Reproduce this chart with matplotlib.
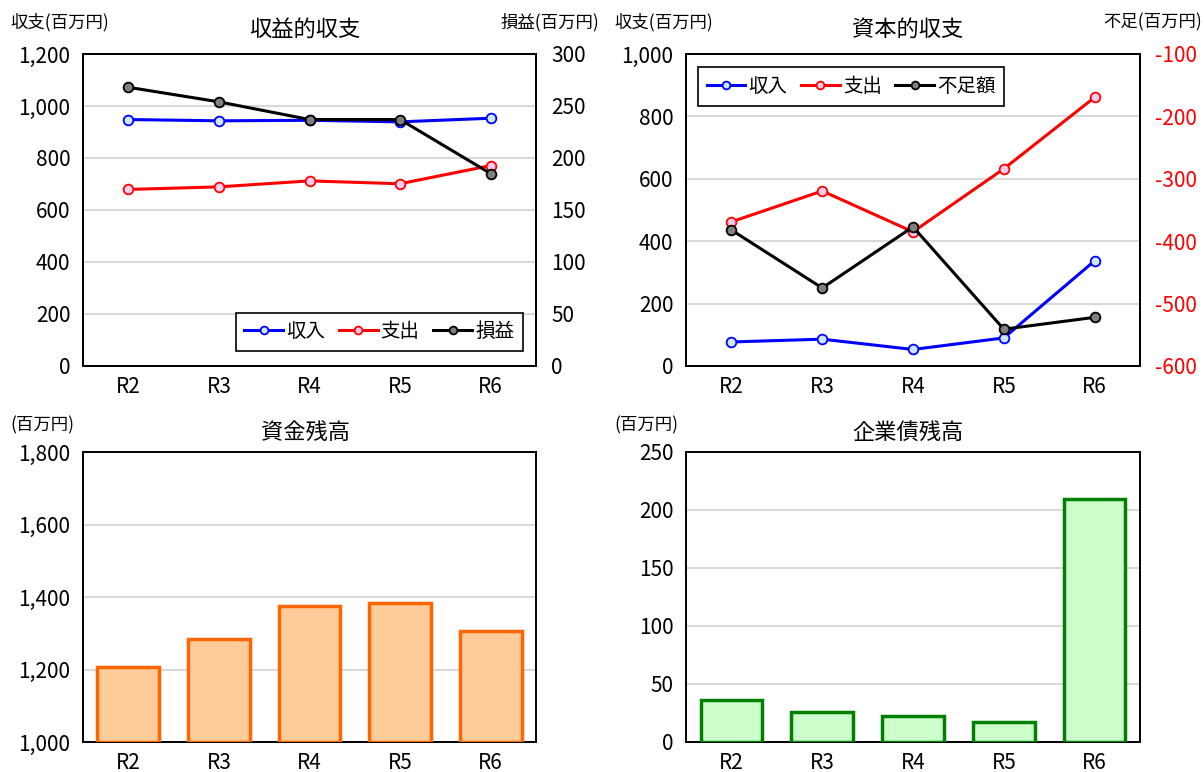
import matplotlib
matplotlib.use("Agg")
import matplotlib.pyplot as plt
from matplotlib.ticker import FuncFormatter

plt.rcParams["font.family"] = ["Noto Sans CJK JP", "DejaVu Sans"]
plt.rcParams["axes.unicode_minus"] = False

# ── data (百万円) ───────────────────────────────────────────────────────
years = ["R2", "R3", "R4", "R5", "R6"]

# 収益的収支
rev_income = [948, 943, 945, 939, 953]
rev_expense = [679, 689, 712, 701, 771]
rev_profit = [268, 254, 237, 237, 185]

# 資本的収支
cap_income = [77, 86, 53, 90, 337]
cap_expense = [462, 561, 430, 632, 861]
cap_shortfall = [-382, -475, -377, -541, -522]

# 資金残高 / 企業債残高
fund_balance = [1207, 1285, 1375, 1383, 1306]
bond_balance = [36.5, 26, 22.5, 17, 209.5]

# ── colours ────────────────────────────────────────────────────────────
CLR_GRID = "#d9d9d9"
CLR_INC, CLR_INC_FILL = "#0000ff", "#cce8ff"
CLR_EXP, CLR_EXP_FILL = "#ff0000", "#ffccee"
CLR_NET, CLR_NET_FILL = "#000000", "#808080"

W, H = 1204, 772
fig = plt.figure(figsize=(W / 100, H / 100), dpi=100)
fig.patch.set_facecolor("white")

TICK_FS = 15
TITLE_FS = 16
UNIT_FS = 12.5
LEG_FS = 14


def px_axes(l, t, r, b):
    return fig.add_axes([l / W, 1 - b / H, (r - l) / W, (b - t) / H])


def style_axes(ax):
    for sp in ax.spines.values():
        sp.set_color("black")
        sp.set_linewidth(1.4)
    ax.tick_params(length=0, labelsize=TICK_FS)
    ax.tick_params(axis="y", pad=9)
    ax.tick_params(axis="x", pad=7)
    ax.yaxis.grid(True, color=CLR_GRID, linewidth=1.5)
    ax.set_axisbelow(True)
    ax.set_xlim(-0.5, len(years) - 0.5)
    ax.set_xticks(range(len(years)))
    ax.set_xticklabels(years)


def style_right(ax, colour="black"):
    ax.tick_params(length=0, labelsize=TICK_FS, pad=11, labelcolor=colour)
    for sp in ax.spines.values():
        sp.set_linewidth(1.4)


comma = FuncFormatter(lambda v, _: f"{v:,.0f}")
x = list(range(len(years)))


def line(ax, vals, clr, fill, label):
    return ax.plot(x, vals, color=clr, lw=2.2, marker="o", markersize=7,
                   markerfacecolor=fill, markeredgecolor=clr,
                   markeredgewidth=1.3, label=label, zorder=3)[0]


def legend(ax, handles, loc, anchor):
    leg = ax.legend(handles=handles, loc=loc, ncol=3, fontsize=LEG_FS,
                    frameon=True, fancybox=False, edgecolor="black",
                    framealpha=1, borderpad=0.45, borderaxespad=0,
                    handlelength=2.0, handletextpad=0.15, columnspacing=0.7,
                    markerscale=0.8, bbox_to_anchor=anchor)
    leg.get_frame().set_linewidth(1.2)


# ── 収益的収支 ──────────────────────────────────────────────────────────
ax1 = px_axes(83, 54, 536, 366)
style_axes(ax1)
ax1.set_ylim(0, 1200)
ax1.set_yticks(range(0, 1201, 200))
ax1.yaxis.set_major_formatter(comma)
h1 = line(ax1, rev_income, CLR_INC, CLR_INC_FILL, "収入")
h2 = line(ax1, rev_expense, CLR_EXP, CLR_EXP_FILL, "支出")
ax1r = ax1.twinx()
ax1r.set_ylim(0, 300)
ax1r.set_yticks(range(0, 301, 50))
style_right(ax1r)
h3 = line(ax1r, rev_profit, CLR_NET, CLR_NET_FILL, "損益")
legend(ax1r, [h1, h2, h3], "lower right", (0.971, 0.048))
fig.text(305 / W, 1 - 29 / H, "収益的収支", fontsize=TITLE_FS, ha="center", va="center")
fig.text(10 / W, 1 - 22 / H, "収支(百万円)", fontsize=UNIT_FS, ha="left", va="center")
fig.text(599 / W, 1 - 22 / H, "損益(百万円)", fontsize=UNIT_FS, ha="right", va="center")

# ── 資本的収支 ──────────────────────────────────────────────────────────
ax2 = px_axes(686, 54, 1140, 366)
style_axes(ax2)
ax2.set_ylim(0, 1000)
ax2.set_yticks(range(0, 1001, 200))
ax2.yaxis.set_major_formatter(comma)
g1 = line(ax2, cap_income, CLR_INC, CLR_INC_FILL, "収入")
g2 = line(ax2, cap_expense, CLR_EXP, CLR_EXP_FILL, "支出")
ax2r = ax2.twinx()
ax2r.set_ylim(-600, -100)
ax2r.set_yticks(range(-600, -99, 100))
style_right(ax2r, "#ff0000")
g3 = line(ax2r, cap_shortfall, CLR_NET, CLR_NET_FILL, "不足額")
legend(ax2r, [g1, g2, g3], "upper left", (0.026, 0.958))
fig.text(908 / W, 1 - 29 / H, "資本的収支", fontsize=TITLE_FS, ha="center", va="center")
fig.text(614 / W, 1 - 22 / H, "収支(百万円)", fontsize=UNIT_FS, ha="left", va="center")
fig.text(1202 / W, 1 - 22 / H, "不足(百万円)", fontsize=UNIT_FS, ha="right", va="center")

# ── 資金残高 ────────────────────────────────────────────────────────────
ax3 = px_axes(83, 452, 536, 742)
style_axes(ax3)
ax3.set_ylim(1000, 1800)
ax3.set_yticks(range(1000, 1801, 200))
ax3.yaxis.set_major_formatter(comma)
ax3.bar(x, [v - 1000 for v in fund_balance], bottom=1000, width=0.68,
        color="#ffcc99", edgecolor="#ff6600", linewidth=2.5, zorder=3)
fig.text(305 / W, 1 - 432 / H, "資金残高", fontsize=TITLE_FS, ha="center", va="center")
fig.text(10 / W, 1 - 425 / H, "(百万円)", fontsize=UNIT_FS, ha="left", va="center")

# ── 企業債残高 ──────────────────────────────────────────────────────────
ax4 = px_axes(686, 452, 1140, 742)
style_axes(ax4)
ax4.set_ylim(0, 250)
ax4.set_yticks(range(0, 251, 50))
ax4.bar(x, bond_balance, width=0.68, color="#ccffcc", edgecolor="#008000",
        linewidth=2.5, zorder=3)
fig.text(908 / W, 1 - 432 / H, "企業債残高", fontsize=TITLE_FS, ha="center", va="center")
fig.text(614 / W, 1 - 425 / H, "(百万円)", fontsize=UNIT_FS, ha="left", va="center")

fig.savefig("out.png", dpi=100, facecolor="white")
